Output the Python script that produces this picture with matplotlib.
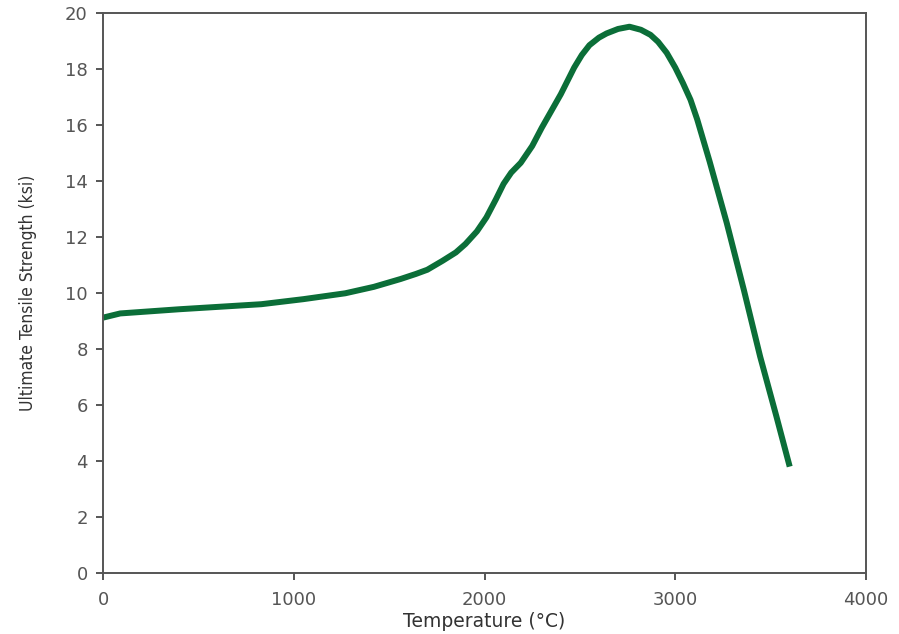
import matplotlib.pyplot as plt
import numpy as np

# data
temp_c = [0, 90, 400, 830, 1050, 1270, 1420, 1560, 1640, 1700, 1780, 1850, 1900, 1960,
          2010, 2060, 2100, 2140, 2190, 2250, 2300, 2400, 2470, 2510, 2550, 2600,
          2640, 2700, 2760, 2820, 2870, 2910, 2955, 3000, 3040, 3080, 3115, 3180,
          3270, 3360, 3445, 3530, 3600]
uts_ksi = [9.12, 9.27, 9.42, 9.6, 9.78, 9.99, 10.22, 10.5, 10.68, 10.83, 11.15, 11.45,
           11.75, 12.2, 12.7, 13.35, 13.9, 14.3, 14.65, 15.25, 15.9, 17.1, 18.05, 18.5,
           18.85, 19.12, 19.27, 19.43, 19.51, 19.4, 19.22, 18.97, 18.58, 18.05, 17.5,
           16.9, 16.2, 14.7, 12.5, 10.1, 7.73, 5.6, 3.8]

xticks = [0, 1000, 2000, 3000, 4000]
yticks = list(range(0, 21, 2))

fig = plt.figure(figsize=(8.99, 6.34), dpi=100)
ax = fig.add_axes([0.1146, 0.0962, 0.8487, 0.8833])

ax.plot(temp_c, uts_ksi, color='#0b6e38', lw=4.3, solid_capstyle='butt',
        solid_joinstyle='round')

ax.set_xlim(0, 4000)
ax.set_ylim(0, 20)
ax.set_xticks(xticks)
ax.set_yticks(yticks)

for s in ax.spines.values():
    s.set_color('#555555')
    s.set_linewidth(1.4)
ax.tick_params(direction='out', length=5, width=1.4, color='#555555',
               labelsize=13, labelcolor='#555555')
ax.tick_params(axis='x', pad=8)
ax.tick_params(axis='y', pad=6)

ax.set_xlabel('Temperature (°C)', fontsize=13.5, color='#333333', labelpad=2)
ax.set_ylabel('Ultimate Tensile Strength (ksi)', fontsize=12.5, color='#333333',
              fontstretch='condensed', labelpad=20)

fig.savefig('out.png', dpi=100)
